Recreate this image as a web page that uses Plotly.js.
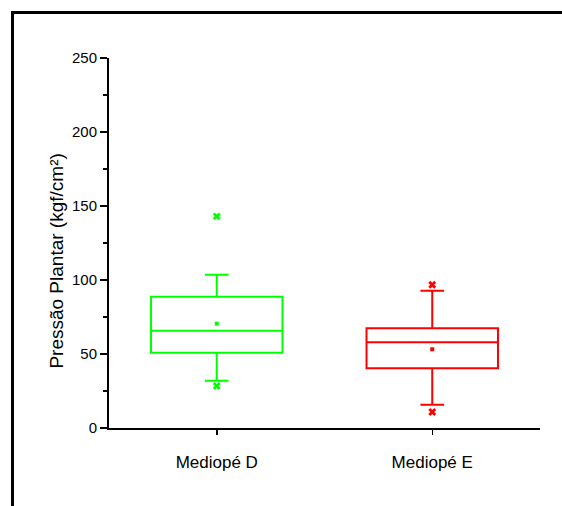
<!DOCTYPE html>
<html>
<head>
<meta charset="utf-8">
<script src="https://cdn.plot.ly/plotly-3.0.1.min.js"></script>
<style>
  html, body { margin: 0; padding: 0; background: #fff; }
  #wrap { position: relative; width: 562px; height: 506px; overflow: hidden; }
  #chart { position: absolute; left: 0; top: 0; width: 562px; height: 506px; }
  #frame { position: absolute; left: 11px; top: 11px; right: -10px; bottom: -10px;
           border-top: 3px solid #000; border-left: 3px solid #000; pointer-events: none; }
</style>
</head>
<body>
<div id="wrap">
  <div id="chart"></div>
  <div id="frame"></div>
</div>
<script>
// Groups
const categories = ['Mediopé D', 'Mediopé E'];
const colors = ['#00ff00', '#ff0000'];

// Box statistics (kgf/cm²)
const q1 = [50.9, 40.3];
const median = [65.7, 57.9];
const q3 = [88.7, 67.4];
const lowerWhisker = [32.0, 15.7];
const upperWhisker = [103.6, 92.8];
const mean = [70.5, 53.2];
const p1 = [28.4, 10.8];
const p99 = [143.0, 96.8];

const yTicks = [0, 50, 100, 150, 200, 250];
const yTitle = 'Pressão Plantar (kgf/cm²)';

const traces = [];
categories.forEach((c, i) => {
  traces.push({
    type: 'box',
    x: [c],
    q1: [q1[i]], median: [median[i]], q3: [q3[i]],
    lowerfence: [lowerWhisker[i]], upperfence: [upperWhisker[i]],
    boxpoints: false,
    width: 0.61,
    whiskerwidth: 0.18,
    line: { color: colors[i], width: 2 },
    fillcolor: 'rgba(0,0,0,0)',
    showlegend: false,
    hoverinfo: 'skip'
  });
  traces.push({
    type: 'scatter', mode: 'markers',
    x: [c], y: [mean[i]],
    marker: { symbol: 'square', size: 4, color: colors[i] },
    showlegend: false
  });
  traces.push({
    type: 'scatter', mode: 'markers',
    x: [c, c], y: [p1[i], p99[i]],
    marker: { symbol: 'x', size: 7, color: colors[i], line: { width: 0 } },
    showlegend: false
  });
});

const font = { family: 'Liberation Sans, Arial, sans-serif', color: '#000' };

const layout = {
  width: 562, height: 506,
  margin: { l: 109, r: 22, t: 58, b: 78 },
  paper_bgcolor: '#fff', plot_bgcolor: '#fff',
  font: Object.assign({ size: 14 }, font),
  xaxis: {
    type: 'category',
    range: [-0.5, 1.5],
    showgrid: false, zeroline: false,
    showline: true, linecolor: '#000', linewidth: 2,
    ticks: 'outside', ticklen: 5, tickwidth: 1.5, tickcolor: '#000',
    tickfont: Object.assign({ size: 17 }, font),
    ticklabelstandoff: 13,
    fixedrange: true
  },
  yaxis: {
    range: [0, 250],
    tickvals: yTicks,
    showgrid: false, zeroline: false,
    showline: true, linecolor: '#000', linewidth: 2,
    ticks: 'outside', ticklen: 7, tickwidth: 1.5, tickcolor: '#000',
    minor: { dtick: 25, ticks: 'outside', ticklen: 4, tickwidth: 1.5, tickcolor: '#000', showgrid: false },
    tickfont: Object.assign({ size: 15 }, font),
    automargin: false,
    fixedrange: true
  },
  // y-axis title, set a little below the axis midpoint
  annotations: [{
    text: yTitle,
    textangle: -90,
    xref: 'paper', yref: 'paper',
    x: -0.121, y: 0.452,
    xanchor: 'center', yanchor: 'middle',
    showarrow: false,
    font: Object.assign({ size: 19 }, font)
  }]
};

Plotly.newPlot('chart', traces, layout, { displayModeBar: false, staticPlot: true });
</script>
</body>
</html>
